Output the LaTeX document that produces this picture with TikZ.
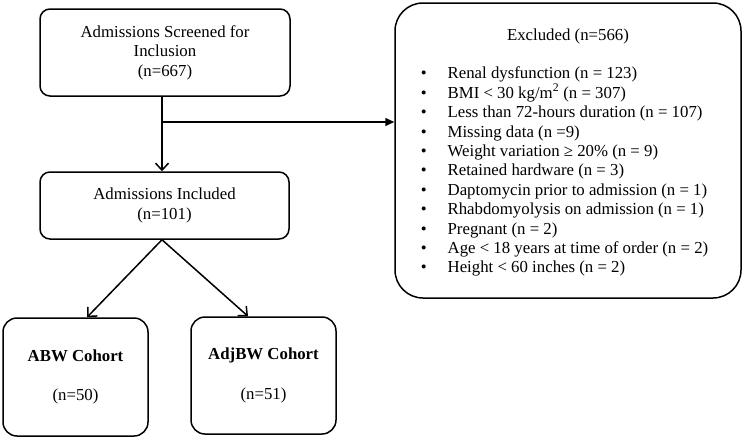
\documentclass[tikz,border=0pt]{standalone}
\usepackage{fontspec}
\setmainfont{Liberation Serif}
\usepackage{tikz}
\usetikzlibrary{arrows.meta}

\begin{document}
\begin{tikzpicture}[x=1pt, y=-1pt,
        box/.style = {draw, rounded corners=10pt, align=center, inner sep=0pt},
        chev/.style = {-{Straight Barb[length=7pt,width=13pt,line width=1.5pt]}},
        tri/.style = {-{Triangle[length=9pt,width=8pt]}},
        every node/.append style = {font=\fontsize{16.8}{19.4}\selectfont},
            line width=1.5pt
    ]
        \useasboundingbox (0,0) rectangle (744,439);
        \node[box, minimum width=250pt, minimum height=87pt] (screened) at (165,52.5)
            {Admissions Screened for\\ Inclusion\\ (n=667)};
        \node[box, minimum width=249pt, minimum height=67pt] (included) at (164.5,205.5)
            {Admissions Included\\ (n=101)};
        \node[box, rounded corners=28pt, minimum width=346pt, minimum height=295pt] (excluded) at (568,150.5) {};
        \node (exctitle) at (568,36) {Excluded (n=566)};
        \node[anchor=north west, inner sep=0pt] (exclist) at (420,64) {%
            \begin{tabular}{@{}l@{\hspace{21pt}}l@{}}
            \textbullet & Renal dysfunction (n = 123)\\
            \textbullet & BMI < 30 kg/m\textsuperscript{2} (n = 307)\\
            \textbullet & Less than 72-hours duration (n = 107)\\
            \textbullet & Missing data (n =9)\\
            \textbullet & Weight variation ≥ 20\% (n = 9)\\
            \textbullet & Retained hardware (n = 3)\\
            \textbullet & Daptomycin prior to admission (n = 1)\\
            \textbullet & Rhabdomyolysis on admission (n = 1)\\
            \textbullet & Pregnant (n = 2)\\
            \textbullet & Age < 18 years at time of order (n = 2)\\
            \textbullet & Height < 60 inches (n = 2)
            \end{tabular}};
        \node[box, rounded corners=14pt, minimum width=145pt, minimum height=118pt] (abw) at (75.5,377)
            {\textbf{ABW Cohort}\\[20.5pt] (n=50)};
        \node[box, rounded corners=14pt, minimum width=145pt, minimum height=117pt] (adjbw) at (263.5,375.5)
            {\textbf{AdjBW Cohort}\\[20.5pt] (n=51)};
        \coordinate (split) at (162,122);
        \draw[chev] (split |- screened.south) -- (split |- included.north);
        \draw[tri] (split) -- (split -| excluded.west);
        \draw[chev] ([xshift=-2.5pt]included.south) -- ([xshift=11.5pt]abw.north);
        \draw[chev] ([xshift=-2.5pt]included.south) -- ([xshift=-15.5pt]adjbw.north);
    \end{tikzpicture}
\end{document}
